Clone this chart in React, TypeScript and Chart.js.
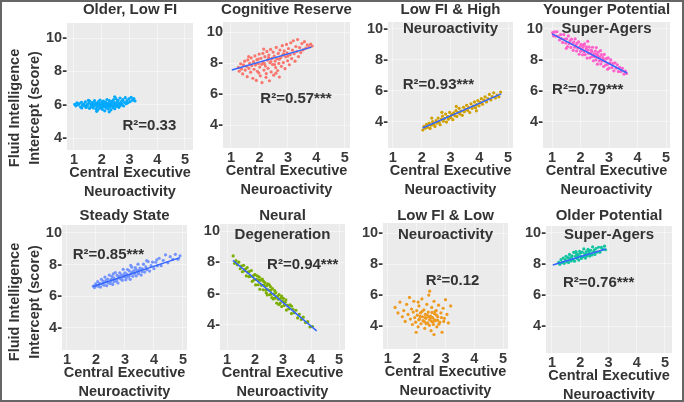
import React, { useEffect, useRef } from 'react';
import { Chart, registerables } from 'chart.js';
Chart.register(...registerables);

// ---------------- data ----------------
const xTickValues = [1, 2, 3, 4, 5];
const yTickValues = [4, 6, 8, 10];
const xAxisTitle = ['Central Executive', 'Neuroactivity'];
const yAxisTitle = ['Fluid Intelligence', 'Intercept (score)'];

const panelTitles = [
  ['Older, Low FI'],
  ['Cognitive Reserve'],
  ['Low FI & High', 'Neuroactivity'],
  ['Younger Potential', 'Super-Agers'],
  ['Steady State'],
  ['Neural', 'Degeneration'],
  ['Low FI & Low', 'Neuroactivity'],
  ['Older Potential', 'Super-Agers'],
];

const r2Labels = ['R²=0.33', 'R²=0.57***', 'R²=0.93***', 'R²=0.79***', 'R²=0.85***', 'R²=0.94***', 'R²=0.12', 'R²=0.76***'];

const olderLowFI: [number, number][] = [
  [1.03,6.02],[1.07,5.93],[1.11,6.11],[1.16,5.99],[1.19,6.06],[1.24,5.86],[1.27,6.14],[1.31,5.97],[1.36,6.04],[1.39,5.91],
  [1.41,6.17],[1.44,5.83],[1.47,6.0],[1.49,5.95],[1.53,6.09],[1.56,5.78],[1.57,6.21],[1.61,5.88],[1.62,6.03],[1.64,5.96],
  [1.67,6.13],[1.69,5.81],[1.71,6.07],[1.72,5.92],[1.74,6.24],[1.77,5.99],[1.79,5.74],[1.8,6.1],[1.83,5.87],[1.84,6.02],
  [1.86,5.69],[1.88,6.18],[1.89,5.94],[1.91,6.06],[1.93,5.79],[1.94,6.27],[1.96,5.9],[1.98,6.01],[2.0,5.84],[2.01,6.14],
  [2.03,5.71],[2.04,5.97],[2.06,6.22],[2.08,5.88],[2.09,6.05],[2.11,5.63],[2.13,5.93],[2.14,6.16],[2.16,5.8],[2.18,6.03],
  [2.19,6.31],[2.21,5.91],[2.23,5.74],[2.24,6.1],[2.26,5.98],[2.28,6.24],[2.29,5.85],[2.31,6.06],[2.33,5.68],[2.35,5.95],
  [2.36,6.19],[2.38,6.02],[2.4,5.82],[2.42,6.29],[2.43,5.93],[2.45,6.12],[2.47,5.76],[2.49,6.04],[2.51,6.36],[2.53,5.9],
  [2.55,6.15],[2.57,5.99],[2.59,6.26],[2.62,5.84],[2.64,6.08],[2.66,6.4],[2.68,5.96],[2.71,6.19],[2.73,6.03],[2.76,6.3],
  [2.79,5.92],[2.82,6.14],[2.85,6.42],[2.88,6.06],[2.91,6.25],[2.94,6.11],[2.98,6.35],[3.02,6.18],[3.06,6.44],[3.11,6.27],
  [3.16,6.36],[3.2,6.22],[1.82,5.6],[2.27,5.57],[1.52,6.26],[2.47,6.47],[1.28,5.8],
];
const cognitiveReserve: [number, number][] = [
  [1.26,7.72],[1.29,7.48],[1.34,7.95],[1.37,7.62],[1.41,7.3],[1.44,7.88],[1.48,8.12],[1.5,7.55],[1.55,7.79],[1.57,7.12],
  [1.59,8.2],[1.63,7.66],[1.66,7.98],[1.69,7.41],[1.71,8.33],[1.73,7.83],[1.77,7.02],[1.79,8.09],[1.81,7.6],[1.84,8.46],
  [1.86,7.88],[1.89,6.88],[1.91,8.21],[1.93,7.47],[1.96,7.97],[1.99,8.58],[2.01,7.74],[2.03,7.18],[2.05,8.31],[2.08,7.92],
  [2.09,6.74],[2.12,8.63],[2.13,8.06],[2.16,7.55],[2.19,8.41],[2.21,7.81],[2.23,7.08],[2.26,8.75],[2.28,8.19],[2.3,7.66],
  [2.33,8.52],[2.35,6.86],[2.37,8.02],[2.39,8.88],[2.41,7.43],[2.44,8.3],[2.46,7.9],[2.48,8.71],[2.5,7.22],[2.52,8.45],
  [2.55,8.13],[2.57,7.71],[2.59,9.01],[2.61,8.28],[2.64,7.52],[2.66,8.62],[2.68,7.98],[2.7,7.1],[2.72,8.84],[2.75,8.36],
  [2.77,7.79],[2.8,9.12],[2.82,8.51],[2.84,8.03],[2.87,8.79],[2.9,7.64],[2.92,8.4],[2.95,9.2],[2.97,8.66],[2.99,8.15],
  [3.02,8.94],[3.05,7.89],[3.08,8.55],[3.1,9.31],[3.13,8.29],[3.16,8.83],[3.19,9.44],[3.22,8.6],[3.25,8.12],[3.28,9.07],
  [3.31,8.74],[3.34,9.52],[3.37,8.42],[3.41,9.0],[3.45,8.68],[3.49,9.26],[3.53,8.85],[3.58,9.38],[3.63,8.96],[3.68,9.18],
  [3.74,9.04],[3.8,9.22],[3.85,9.1],[1.98,7.36],[2.24,7.32],[2.58,7.35],[2.15,8.9],[1.62,8.42],[2.4,8.1],[2.7,8.25],
  [2.18,7.95],[2.85,8.6],[1.95,8.25],[3.0,8.45],[2.53,7.9],[2.32,8.35],
];
const lowFIHighNeuro: [number, number][] = [
  [2.04,3.48],[2.08,3.71],[2.12,3.6],[2.17,3.85],[2.21,3.66],[2.26,3.93],[2.29,3.58],[2.33,3.79],[2.38,4.02],[2.42,3.84],
  [2.46,3.71],[2.5,4.08],[2.53,3.93],[2.57,4.25],[2.61,3.98],[2.64,3.82],[2.68,4.19],[2.72,4.38],[2.75,4.05],[2.79,4.22],
  [2.83,4.51],[2.86,3.99],[2.9,4.34],[2.93,4.18],[2.97,4.62],[3.01,4.29],[3.04,4.47],[3.08,4.15],[3.11,4.58],[3.15,4.41],
  [3.19,4.73],[3.22,4.36],[3.26,4.6],[3.3,4.88],[3.33,4.52],[3.37,4.7],[3.41,4.43],[3.45,4.95],[3.48,4.66],[3.52,4.82],
  [3.56,5.08],[3.6,4.74],[3.63,4.93],[3.67,4.61],[3.71,5.17],[3.75,4.88],[3.79,5.03],[3.83,5.29],[3.87,4.92],[3.91,5.12],
  [3.95,5.38],[3.99,5.04],[4.03,5.26],[4.07,5.5],[4.11,5.15],[4.16,5.41],[4.2,5.62],[4.25,5.29],[4.3,5.5],[4.35,5.78],
  [4.4,5.42],[4.45,5.64],[4.5,5.88],[4.56,5.55],[4.62,5.74],[4.68,5.62],[4.74,5.93],[3.2,5.0],[2.7,4.62],[3.9,4.72],
  [2.35,4.25],
];
const youngerSuperAgers: [number, number][] = [
  [1.02,9.76],[1.05,9.55],[1.09,9.81],[1.13,9.54],[1.17,9.82],[1.21,9.53],[1.26,9.29],[1.3,9.64],[1.33,9.38],[1.37,9.13],
  [1.41,9.64],[1.44,9.34],[1.48,9.1],[1.51,9.37],[1.54,8.86],[1.57,9.55],[1.6,9.05],[1.63,9.23],[1.66,8.81],[1.68,9.34],
  [1.71,9.04],[1.74,8.62],[1.76,9.15],[1.79,8.82],[1.81,9.36],[1.84,8.98],[1.86,8.58],[1.88,9.09],[1.91,8.76],[1.93,9.17],
  [1.95,8.37],[1.98,8.86],[2.0,8.56],[2.02,9.0],[2.05,8.69],[2.07,8.33],[2.09,8.84],[2.12,8.53],[2.14,9.04],[2.16,8.35],
  [2.19,8.63],[2.21,8.85],[2.23,8.12],[2.26,8.62],[2.28,8.43],[2.3,8.83],[2.33,8.14],[2.35,8.44],[2.37,8.64],[2.4,8.22],
  [2.42,8.82],[2.45,7.95],[2.47,8.4],[2.49,8.21],[2.52,8.58],[2.54,8.0],[2.56,8.39],[2.59,7.73],[2.61,8.18],[2.63,8.51],
  [2.66,7.94],[2.68,8.19],[2.71,7.74],[2.73,8.34],[2.76,7.93],[2.78,8.15],[2.81,7.58],[2.83,8.36],[2.86,7.92],[2.88,7.67],
  [2.91,8.1],[2.94,7.71],[2.97,8.13],[3.0,7.48],[3.03,7.81],[3.06,8.01],[3.1,7.51],[3.13,7.78],[3.17,7.3],[3.21,7.81],
  [3.25,7.47],[3.29,7.69],[3.33,7.25],[3.37,7.53],[3.42,7.26],[3.47,7.46],[3.52,7.09],[3.57,7.28],[3.61,7.13],[2.25,9.2],
  [2.55,8.8],[2.95,7.4],[1.5,8.75],[2.1,8.95],[2.7,8.6],[2.4,8.55],[2.8,8.05],[2.2,8.7],[2.6,8.3],
];
const steadyState: [number, number][] = [
  [1.91,6.64],[1.95,6.55],[1.99,6.79],[2.03,6.66],[2.06,6.92],[2.1,6.62],[2.13,6.81],[2.16,6.58],[2.19,7.07],[2.22,6.77],
  [2.25,6.94],[2.28,6.7],[2.31,7.21],[2.34,6.91],[2.37,6.67],[2.4,7.08],[2.43,6.85],[2.46,7.34],[2.49,6.8],[2.52,7.07],
  [2.55,7.26],[2.58,6.75],[2.61,7.17],[2.64,7.01],[2.67,7.5],[2.7,6.95],[2.73,7.32],[2.76,6.84],[2.79,7.2],[2.82,7.48],
  [2.85,7.09],[2.88,7.36],[2.91,7.01],[2.94,7.7],[2.97,7.24],[3.0,7.48],[3.03,7.04],[3.06,7.4],[3.09,7.69],[3.12,7.22],
  [3.15,7.6],[3.18,7.07],[3.21,7.43],[3.24,7.84],[3.27,7.26],[3.3,7.6],[3.33,7.42],[3.36,7.81],[3.39,7.28],[3.42,7.6],
  [3.45,8.03],[3.48,7.45],[3.52,7.78],[3.56,7.34],[3.6,7.74],[3.64,8.03],[3.68,7.53],[3.72,7.86],[3.76,7.68],[3.8,8.19],
  [3.85,7.59],[3.9,7.93],[3.95,8.16],[4.0,7.75],[4.06,8.15],[4.12,7.92],[4.18,8.4],[4.25,7.93],[4.32,8.27],[4.4,8.62],
  [4.48,8.11],[4.56,8.5],[4.65,8.33],[4.74,8.65],[4.83,8.34],[4.9,8.56],[2.35,7.0],[2.62,6.93],[2.88,7.12],[3.05,7.18],
  [3.25,7.52],[3.5,7.66],[2.72,7.05],[2.95,7.35],[3.15,7.3],[3.38,7.7],[2.5,6.9],[3.6,7.55],[2.8,7.26],[3.45,7.42],
  [4.1,8.3],[3.2,7.95],[2.6,7.42],[3.75,8.25],
];
const neuralDegeneration: [number, number][] = [
  [1.22,8.41],[1.27,7.94],[1.32,8.11],[1.37,7.84],[1.42,8.01],[1.47,7.59],[1.51,7.76],[1.55,7.4],[1.59,7.81],[1.63,7.47],
  [1.66,7.57],[1.69,7.13],[1.72,7.66],[1.75,7.37],[1.78,7.09],[1.81,7.43],[1.84,7.11],[1.87,7.48],[1.9,6.79],[1.93,7.14],
  [1.96,6.88],[1.99,7.22],[2.02,6.56],[2.05,6.91],[2.08,7.14],[2.11,6.57],[2.14,6.86],[2.17,6.28],[2.2,6.86],[2.23,6.54],
  [2.26,6.93],[2.29,6.25],[2.32,6.54],[2.35,6.71],[2.38,6.23],[2.41,6.5],[2.44,5.92],[2.47,6.25],[2.5,6.58],[2.53,5.94],
  [2.56,6.21],[2.59,5.97],[2.62,6.33],[2.65,5.66],[2.68,5.97],[2.71,5.71],[2.74,6.07],[2.77,5.4],[2.8,5.83],[2.83,5.65],
  [2.86,5.94],[2.89,5.38],[2.92,5.71],[2.95,5.18],[2.98,5.51],[3.01,5.7],[3.04,5.25],[3.08,5.45],[3.12,4.95],[3.16,5.26],
  [3.2,5.03],[3.25,5.28],[3.3,4.73],[3.35,5.0],[3.4,4.78],[3.46,4.94],[3.52,4.45],[3.58,4.68],[3.65,4.35],[3.72,4.5],
  [3.8,4.15],[3.88,4.21],[3.96,3.87],[4.05,3.9],[2.3,6.8],[2.55,6.45],[2.85,5.3],[2.4,6.05],[2.7,6.2],[3.1,5.6],
  [2.15,7.05],[2.6,5.75],[2.95,5.85],[2.45,6.62],[3.3,5.2],[2.0,7.2],
];
const lowFILowNeuro: [number, number][] = [
  [1.25,5.2],[1.35,4.85],[1.42,5.55],[1.5,4.6],[1.55,5.0],[1.6,4.3],[1.65,5.4],[1.7,4.75],[1.75,5.85],[1.78,4.45],
  [1.82,5.1],[1.85,4.1],[1.88,4.9],[1.9,5.6],[1.93,4.55],[1.96,4.25],[2.0,5.0],[2.02,4.7],[2.05,3.95],[2.08,5.3],
  [2.1,4.45],[2.13,4.85],[2.15,4.15],[2.18,5.75],[2.2,4.6],[2.22,4.35],[2.25,5.05],[2.28,3.85],[2.3,4.75],[2.32,4.5],
  [2.35,5.4],[2.38,4.2],[2.4,4.9],[2.42,6.0],[2.45,4.4],[2.48,4.65],[2.5,3.7],[2.52,5.2],[2.55,4.55],[2.58,4.1],
  [2.6,5.6],[2.62,4.8],[2.65,4.35],[2.68,5.0],[2.7,3.95],[2.73,4.6],[2.76,5.35],[2.8,4.25],[2.84,4.85],[2.88,3.6],
  [2.92,5.15],[2.96,4.5],[3.0,5.7],[3.05,4.75],[3.1,4.2],[3.18,5.3],[2.45,6.25],[2.05,5.55],[1.98,3.6],[2.6,3.45],
  [2.12,4.62],[2.27,4.28],[2.36,4.72],[2.44,4.05],[2.53,4.88],[2.61,4.42],[2.69,4.7],[2.77,4.12],[2.19,4.95],[2.33,4.15],
  [2.47,4.52],[2.56,4.25],[2.64,4.95],[2.72,4.38],[2.41,4.6],[2.29,4.55],[2.86,4.55],[2.51,4.32],[2.07,4.4],[2.94,4.3],
];
const olderSuperAgers: [number, number][] = [
  [1.24,8.11],[1.28,7.98],[1.32,8.28],[1.36,8.1],[1.4,8.38],[1.43,8.04],[1.47,8.28],[1.5,8.5],[1.53,8.14],[1.56,8.39],
  [1.59,8.1],[1.62,8.62],[1.65,8.32],[1.68,8.2],[1.71,8.53],[1.74,8.29],[1.77,8.75],[1.8,8.18],[1.83,8.5],[1.86,8.68],
  [1.89,8.35],[1.92,8.61],[1.95,8.25],[1.98,8.82],[2.01,8.5],[2.04,8.36],[2.07,8.76],[2.1,8.48],[2.13,8.97],[2.16,8.66],
  [2.19,8.38],[2.22,8.8],[2.25,8.53],[2.28,8.95],[2.31,8.69],[2.34,8.51],[2.37,8.88],[2.4,8.65],[2.44,9.1],[2.48,8.8],
  [2.52,8.62],[2.56,9.0],[2.6,8.76],[2.65,9.08],[2.7,8.76],[2.75,9.07],[2.8,8.94],[2.86,9.15],[2.9,8.92],[1.7,8.45],
  [1.9,8.52],[2.0,8.7],[2.15,8.45],[2.3,8.85],[2.5,8.9],[1.6,8.4],[2.2,8.62],[1.85,8.8],[2.42,8.58],
];

const panelPoints = [olderLowFI, cognitiveReserve, lowFIHighNeuro, youngerSuperAgers, steadyState, neuralDegeneration, lowFILowNeuro, olderSuperAgers];

// regression line end points (null: no fitted line drawn)
const fitLines: ([number, number][] | null)[] = [
  null,
  [[1.03, 7.55], [3.83, 9.03]],
  [[2.03, 3.61], [4.76, 5.81]],
  [[1.0, 9.68], [3.63, 7.16]],
  [[1.9, 6.62], [4.9, 8.44]],
  [[1.21, 8.13], [4.2, 3.62]],
  null,
  [[1.03, 7.94], [2.9, 8.97]],
];

// ---------------- layout & style ----------------
const pointColors = ['#00A9FF', '#F8766D', '#CFA000', '#FF61CC', '#7494FF', '#7CAE00', '#EE9A1E', '#12C4A0'];
const r2Anchor: [number, number][] = [[2.75, 4.74], [2.03, 5.68], [1.34, 6.39], [1.0, 6.06], [1.2, 8.62], [2.43, 7.81], [2.31, 6.9], [1.39, 6.77]];
const tenLabels = ['10-', '10', '10-', '10', '10', '10', '10-', '10-'];

type Geo = { L: number; T: number; R: number; B: number; row: number; x: [number, number]; y: [number, number] };
const geos: Geo[] = [
  { L: 67, T: 23, R: 193, B: 150, row: 0, x: [0.75, 5.29], y: [3.28, 10.9] },
  { L: 223, T: 22, R: 350, B: 148, row: 0, x: [0.72, 5.18], y: [2.52, 10.65] },
  { L: 388, T: 22, R: 513, B: 148, row: 0, x: [0.83, 5.17], y: [2.32, 10.45] },
  { L: 543, T: 22, R: 670, B: 148, row: 0, x: [0.68, 5.14], y: [2.32, 10.45] },
  { L: 62, T: 225, R: 187, B: 350, row: 1, x: [0.83, 5.14], y: [2.61, 10.5] },
  { L: 220, T: 224, R: 345, B: 350, row: 1, x: [0.75, 5.21], y: [2.4, 10.45] },
  { L: 383, T: 223, R: 508, B: 349, row: 1, x: [0.83, 5.17], y: [2.52, 10.65] },
  { L: 546, T: 226, R: 672, B: 353, row: 1, x: [0.79, 5.25], y: [2.26, 10.45] },
];

const FONT = '"Liberation Sans", Arial, sans-serif';
const TEXT = '#333333';
const LEFT_W = 62;
const RIGHT_PAD = 14;
const ROW_H = 200;

function Panel({ idx }: { idx: number }) {
  const ref = useRef<HTMLCanvasElement>(null);
  const g = geos[idx];
  const rowTop = g.row * ROW_H;
  const cLeft = g.L - LEFT_W;
  const cW = g.R - g.L + LEFT_W + RIGHT_PAD;

  useEffect(() => {
    const decor = {
      id: 'decor' + idx,
      beforeDraw(chart: any) {
        const { ctx, chartArea: a } = chart;
        ctx.save();
        ctx.fillStyle = '#EBEBEB';
        ctx.fillRect(a.left, a.top, a.right - a.left, a.bottom - a.top);
        ctx.restore();
      },
      afterDraw(chart: any) {
        const { ctx, chartArea: a, scales } = chart;
        ctx.save();
        ctx.fillStyle = TEXT;
        ctx.textAlign = 'center';
        ctx.textBaseline = 'middle';
        ctx.font = `bold 15px ${FONT}`;
        const cx = (a.left + a.right) / 2;
        const t0 = g.row === 0 ? 10 : 216;
        panelTitles[idx].forEach((line, i) => {
          ctx.fillText(line, cx, t0 + i * 18.5 - rowTop);
        });
        ctx.font = `bold 14.5px ${FONT}`;
        xAxisTitle.forEach((line, i) => {
          ctx.fillText(line, cx, a.bottom + 23 + i * 19);
        });
        if (idx % 4 === 0) {
          const cy = (g.row === 0 ? 108 : 302) - rowTop;
          yAxisTitle.forEach((line, i) => {
            ctx.save();
            ctx.translate(15 + i * 20 - cLeft, cy);
            ctx.rotate(-Math.PI / 2);
            ctx.fillText(line, 0, 0);
            ctx.restore();
          });
        }
        ctx.font = `bold 15px ${FONT}`;
        ctx.textAlign = 'left';
        const [rx, ry] = r2Anchor[idx];
        ctx.fillText(r2Labels[idx], scales.x.getPixelForValue(rx), scales.y.getPixelForValue(ry));
        ctx.restore();
      },
    };

    const datasets: any[] = [];
    const fit = fitLines[idx];
    if (fit) {
      datasets.push({
        data: fit.map(([x, y]) => ({ x, y })),
        showLine: true,
        borderColor: '#3366FF',
        borderWidth: 1.5,
        pointRadius: 0,
      });
    }
    datasets.push({
      data: panelPoints[idx].map(([x, y]) => ({ x, y })),
      backgroundColor: pointColors[idx],
      borderWidth: 0,
      pointRadius: 1.6,
    });

    const tickFont = { family: FONT, size: 14.5, weight: 'bold' };
    const chart = new Chart(ref.current!, {
      type: 'scatter',
      data: { datasets },
      options: {
        responsive: false,
        animation: false,
        events: [],
        layout: { padding: { top: g.T - rowTop, right: RIGHT_PAD, left: 0, bottom: 0 } },
        plugins: { legend: { display: false }, tooltip: { enabled: false } },
        scales: {
          x: {
            type: 'linear',
            min: g.x[0],
            max: g.x[1],
            afterBuildTicks: (s: any) => { s.ticks = xTickValues.map((v) => ({ value: v })); },
            afterFit: (s: any) => { s.height = rowTop + ROW_H - g.B; },
            grid: { color: 'rgba(255,255,255,0.6)', lineWidth: 0.8, drawTicks: false },
            border: { display: false },
            ticks: {
              padding: 1,
              color: '#3a3a3a',
              font: tickFont,
              maxRotation: 0,
              autoSkip: false,
              callback: (v: any) => String(v),
            },
          },
          y: {
            type: 'linear',
            min: g.y[0],
            max: g.y[1],
            afterBuildTicks: (s: any) => { s.ticks = yTickValues.map((v) => ({ value: v })); },
            afterFit: (s: any) => { s.width = LEFT_W; },
            grid: { color: 'rgba(255,255,255,0.6)', lineWidth: 0.8, drawTicks: false },
            border: { display: false },
            ticks: {
              padding: 0,
              color: '#3a3a3a',
              font: tickFont,
              autoSkip: false,
              callback: (v: any) => (v === 10 ? tenLabels[idx] : `${v}-`),
            },
          },
        },
      },
      plugins: [decor],
    } as any);
    return () => chart.destroy();
  }, []);

  return (
    <canvas
      ref={ref}
      width={cW}
      height={ROW_H}
      style={{ position: 'absolute', left: cLeft, top: rowTop, width: cW, height: ROW_H }}
    />
  );
}

export default function App() {
  return (
    <div style={{ position: 'absolute', left: 0, top: 0, width: 684, height: 402, background: '#fff', overflow: 'hidden' }}>
      {geos.map((_, i) => (
        <Panel key={i} idx={i} />
      ))}
      <div
        style={{
          position: 'absolute', left: 0, top: 0, width: 684, height: 402,
          boxSizing: 'border-box', border: '2px solid #666', pointerEvents: 'none',
        }}
      />
    </div>
  );
}
